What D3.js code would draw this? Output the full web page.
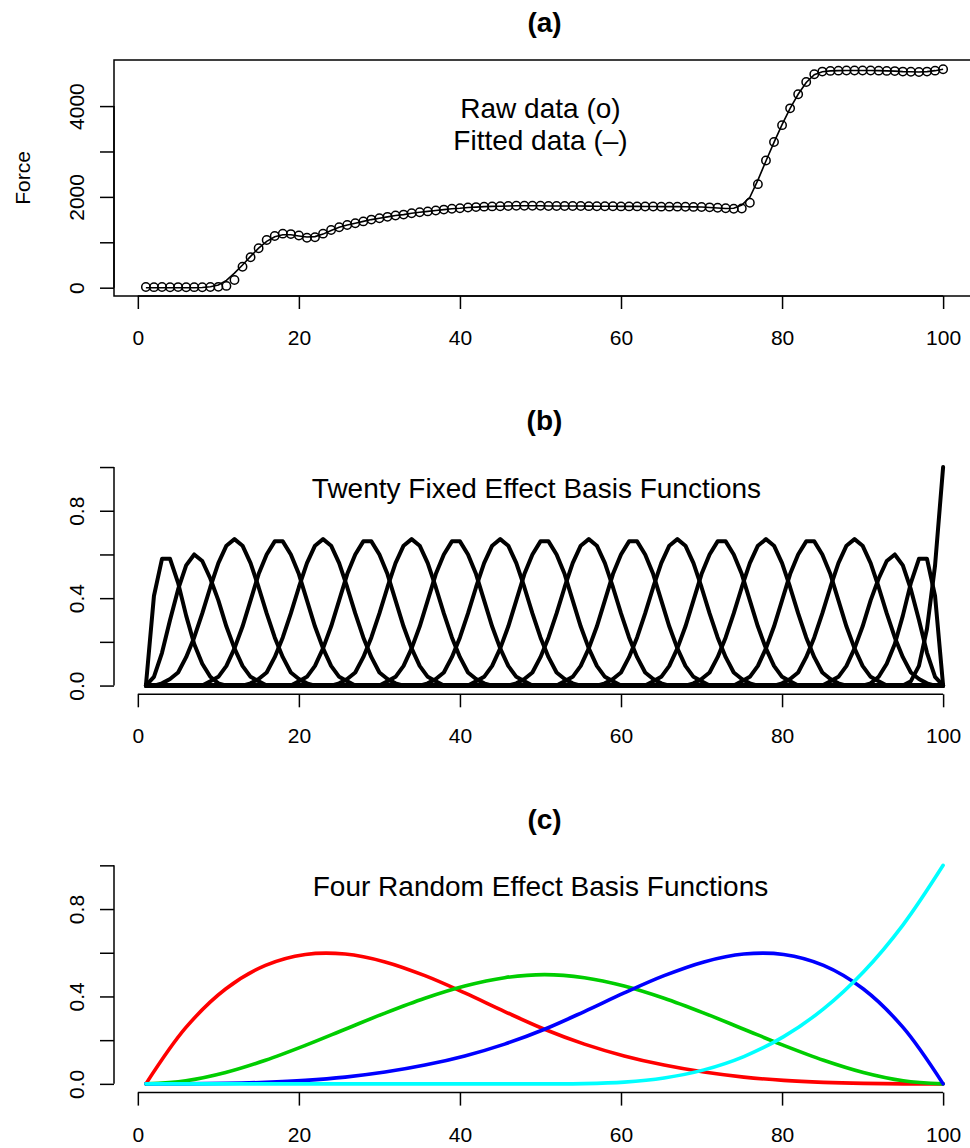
<!DOCTYPE html>
<html>
<head>
<meta charset="utf-8">
<script src="https://cdn.jsdelivr.net/npm/d3@7/dist/d3.min.js"></script>
<style>
  body { margin: 0; background: #fff; }
  text { font-family: "Liberation Sans", Arial, Helvetica, sans-serif; fill: #000; }
</style>
</head>
<body>
<div id="chart"></div>
<script>
// ---- data ----
const sampleIndex = d3.range(1, 101);

const forceRaw = [
  15, 12, 14, 10, 13, 11, 12, 10, 14, 18,
  40, 170, 460, 670, 870, 1050, 1140, 1190, 1180, 1150,
  1100, 1110, 1190, 1270, 1330, 1380, 1420, 1460, 1500, 1530,
  1560, 1590, 1610, 1640, 1660, 1680, 1700, 1720, 1740, 1750,
  1765, 1775, 1785, 1790, 1795, 1800, 1805, 1805, 1805, 1805,
  1800, 1800, 1800, 1800, 1798, 1796, 1795, 1795, 1793, 1790,
  1790, 1790, 1788, 1787, 1785, 1785, 1785, 1783, 1780, 1778,
  1770, 1760, 1750, 1740, 1745, 1870, 2280, 2800, 3210, 3580,
  3950, 4260, 4530, 4700, 4760, 4775, 4780, 4785, 4785, 4785,
  4785, 4780, 4775, 4770, 4760, 4755, 4750, 4760, 4780, 4810
];
const forceFit = [
  0, 0, 0, 0, 0, 0, 0, 5, 20, 60,
  160, 320, 500, 690, 870, 1020, 1120, 1165, 1165, 1140,
  1115, 1125, 1180, 1260, 1330, 1380, 1420, 1460, 1500, 1530,
  1560, 1590, 1610, 1640, 1660, 1680, 1700, 1720, 1740, 1750,
  1765, 1775, 1785, 1790, 1795, 1800, 1805, 1805, 1805, 1805,
  1800, 1800, 1800, 1800, 1798, 1796, 1795, 1795, 1793, 1790,
  1790, 1790, 1788, 1787, 1785, 1785, 1785, 1783, 1780, 1778,
  1765, 1755, 1745, 1750, 1820, 1990, 2370, 2790, 3200, 3590,
  3950, 4260, 4520, 4690, 4755, 4775, 4780, 4785, 4785, 4785,
  4785, 4780, 4775, 4770, 4760, 4755, 4750, 4760, 4780, 4810
];

// fixed effect basis: boundary functions (start index + values), interior bumps (centres + shared profile)
const edgeStarts = [1, 1, 84, 90, 94];
const edgeValues = [
  [0, 0.41, 0.58, 0.58, 0.47, 0.32, 0.19, 0.10, 0.04, 0.01, 0],
  [0, 0.04, 0.15, 0.30, 0.44, 0.55, 0.60, 0.57, 0.49, 0.39, 0.27, 0.17, 0.09, 0.04, 0.02, 0, 0],
  [0, 0, 0.02, 0.04, 0.09, 0.17, 0.27, 0.39, 0.49, 0.57, 0.60, 0.55, 0.44, 0.30, 0.15, 0.04, 0],
  [0, 0.01, 0.04, 0.10, 0.19, 0.32, 0.47, 0.58, 0.58, 0.41, 0],
  [0, 0, 0.02, 0.09, 0.26, 0.55, 1]
];
const bumpCenters = [12, 17.5, 23, 28.5, 34, 39.5, 45, 50.5, 56, 61.5, 67, 72.5, 78, 83.5, 89];
// height of a bump at distance 0, 0.5, 1, ... 11 from its centre
const bumpProfile = [0.67, 0.66, 0.64, 0.60, 0.56, 0.51, 0.45, 0.39, 0.33, 0.27, 0.22, 0.17,
  0.13, 0.09, 0.06, 0.04, 0.03, 0.02, 0.01, 0, 0, 0, 0];

// random effect basis
const randX = [1, 5.95, 10.9, 15.85, 20.8, 25.75, 30.7, 35.65, 40.6, 45.55, 50.5,
  55.45, 60.4, 65.35, 70.3, 75.25, 80.2, 85.15, 90.1, 95.05, 100];
const randRed = [0, 0.257, 0.434, 0.542, 0.592, 0.594, 0.558, 0.495, 0.416, 0.331, 0.250,
  0.182, 0.128, 0.086, 0.054, 0.031, 0.016, 0.007, 0.002, 0, 0];
const randGreen = [0, 0.014, 0.052, 0.108, 0.176, 0.250, 0.324, 0.392, 0.448, 0.486, 0.500,
  0.486, 0.448, 0.392, 0.324, 0.250, 0.176, 0.108, 0.052, 0.014, 0];
const randBlue = [0, 0, 0.002, 0.007, 0.016, 0.031, 0.054, 0.086, 0.128, 0.182, 0.250,
  0.331, 0.416, 0.495, 0.558, 0.594, 0.592, 0.542, 0.434, 0.257, 0];
const randCyan = [0, 0, 0, 0, 0, 0, 0, 0, 0, 0, 0,
  0.001, 0.008, 0.027, 0.064, 0.125, 0.216, 0.343, 0.512, 0.729, 1];
const randColors = ["#ff0000", "#00cd00", "#0000ff", "#00ffff"];

const xTicks = [0, 20, 40, 60, 80, 100];
const forceTicks = [0, 1000, 2000, 3000, 4000];
const forceLabels = [0, 2000, 4000];
const unitTicks = [0, 0.2, 0.4, 0.6, 0.8, 1.0];
const unitLabels = [0, 0.4, 0.8];
const panelTitles = ["(a)", "(b)", "(c)"];

// ---- layout ----
const width = 970, height = 1148;
const left = 114, right = 975, plotH = 236, step = 398.3;
const tops = [60, 60 + step, 60 + 2 * step];

const svg = d3.select("#chart").append("svg")
  .attr("width", width).attr("height", height);

const x = d3.scaleLinear().domain([-2.96, 103.96]).range([left, right]);

function xAxis(g, bottom) {
  const ax = g.append("g")
    .attr("transform", "translate(0," + bottom + ")")
    .call(d3.axisBottom(x).tickValues(xTicks).tickSize(13).tickPadding(21).tickSizeOuter(0));
  ax.select(".domain").remove();
  ax.selectAll(".tick line").attr("stroke", "#000").attr("stroke-width", 1.5);
  ax.selectAll("text").attr("font-size", 21).attr("fill", "#000")
    .attr("font-family", "Liberation Sans, Arial, sans-serif");
  ax.append("line")
    .attr("x1", x(xTicks[0])).attr("x2", x(xTicks[xTicks.length - 1]))
    .attr("stroke", "#000").attr("stroke-width", 1.5);
}

function yAxis(g, y, ticks, labels, fmt) {
  const ax = g.append("g")
    .attr("transform", "translate(" + left + ",0)")
    .call(d3.axisLeft(y).tickValues(ticks).tickSize(14).tickSizeOuter(0)
      .tickFormat(d => labels.includes(d) ? fmt(d) : ""));
  ax.select(".domain").remove();
  ax.selectAll(".tick line").attr("stroke", "#000").attr("stroke-width", 1.5);
  ax.selectAll("text")
    .attr("font-size", 21).attr("fill", "#000")
    .attr("font-family", "Liberation Sans, Arial, sans-serif")
    .attr("text-anchor", "middle")
    .attr("transform", "rotate(-90)")
    .attr("x", 0).attr("y", -30).attr("dy", 0);
  ax.append("line")
    .attr("y1", y(ticks[0])).attr("y2", y(ticks[ticks.length - 1]))
    .attr("stroke", "#000").attr("stroke-width", 1.5);
}

function title(i) {
  svg.append("text")
    .attr("x", (left + right) / 2).attr("y", 32 + i * step)
    .attr("text-anchor", "middle").attr("font-size", 28).attr("font-weight", "bold")
    .text(panelTitles[i]);
}

// ---- panel (a) ----
{
  const top = tops[0], bottom = top + plotH;
  const y = d3.scaleLinear().domain([-183, 5015]).range([bottom, top]);
  const g = svg.append("g");

  g.append("rect")
    .attr("x", left).attr("y", top).attr("width", right - left).attr("height", plotH)
    .attr("fill", "none").attr("stroke", "#000").attr("stroke-width", 1.5);

  g.append("path")
    .datum(sampleIndex)
    .attr("fill", "none").attr("stroke", "#000").attr("stroke-width", 1.6)
    .attr("d", d3.line().x(d => x(d)).y((d, i) => y(forceFit[i])));

  g.selectAll("circle.raw")
    .data(sampleIndex)
    .join("circle")
    .attr("class", "raw")
    .attr("cx", d => x(d)).attr("cy", (d, i) => y(forceRaw[i]))
    .attr("r", 4.2).attr("fill", "none").attr("stroke", "#000").attr("stroke-width", 1.5);

  xAxis(g, bottom);
  yAxis(g, y, forceTicks, forceLabels, d3.format("d"));

  g.append("text")
    .attr("transform", "translate(30," + (top + plotH / 2) + ") rotate(-90)")
    .attr("text-anchor", "middle").attr("font-size", 21).text("Force");

  g.append("text").attr("x", x(50)).attr("y", 118.3)
    .attr("text-anchor", "middle").attr("font-size", 28).text("Raw data (o)");
  g.append("text").attr("x", x(50)).attr("y", 150)
    .attr("text-anchor", "middle").attr("font-size", 28).text("Fitted data (\u2013)");
  title(0);
}

// ---- panel (b) ----
{
  const top = tops[1], bottom = top + plotH;
  const y = d3.scaleLinear().domain([-0.04, 1.04]).range([bottom, top]);
  const g = svg.append("g");

  const curves = [];
  edgeStarts.slice(0, 2).forEach((s, k) => curves.push(sampleIndex.map(t => {
    const j = t - s; return j >= 0 && j < edgeValues[k].length ? edgeValues[k][j] : 0;
  })));
  bumpCenters.forEach(c => curves.push(sampleIndex.map(t => {
    const j = Math.round(Math.abs(t - c) * 2); return j < bumpProfile.length ? bumpProfile[j] : 0;
  })));
  edgeStarts.slice(2).forEach((s, k) => curves.push(sampleIndex.map(t => {
    const j = t - s; return j >= 0 && j < edgeValues[k + 2].length ? edgeValues[k + 2][j] : 0;
  })));

  const line = d3.line().x((d, i) => x(sampleIndex[i])).y(d => y(d));
  g.selectAll("path.basis")
    .data(curves)
    .join("path")
    .attr("class", "basis")
    .attr("fill", "none").attr("stroke", "#000").attr("stroke-width", 4)
    .attr("stroke-linejoin", "round").attr("stroke-linecap", "round")
    .attr("d", line);

  xAxis(g, bottom);
  yAxis(g, y, unitTicks, unitLabels, d3.format(".1f"));

  g.append("text").attr("x", x(49.5)).attr("y", 497.5)
    .attr("text-anchor", "middle").attr("font-size", 28)
    .text("Twenty Fixed Effect Basis Functions");
  title(1);
}

// ---- panel (c) ----
{
  const top = tops[2], bottom = top + plotH;
  const y = d3.scaleLinear().domain([-0.04, 1.04]).range([bottom, top]);
  const g = svg.append("g");

  const series = [randRed, randGreen, randBlue, randCyan];
  const line = d3.line().curve(d3.curveCatmullRom.alpha(0.5))
    .x((d, i) => x(randX[i])).y(d => y(d));
  g.selectAll("path.rand")
    .data(series)
    .join("path")
    .attr("class", "rand")
    .attr("fill", "none").attr("stroke", (d, i) => randColors[i]).attr("stroke-width", 3.6)
    .attr("stroke-linejoin", "round").attr("stroke-linecap", "round")
    .attr("d", line);

  xAxis(g, bottom);
  yAxis(g, y, unitTicks, unitLabels, d3.format(".1f"));

  g.append("text").attr("x", x(50)).attr("y", 896)
    .attr("text-anchor", "middle").attr("font-size", 28)
    .text("Four Random Effect Basis Functions");
  title(2);
}
</script>
</body>
</html>
